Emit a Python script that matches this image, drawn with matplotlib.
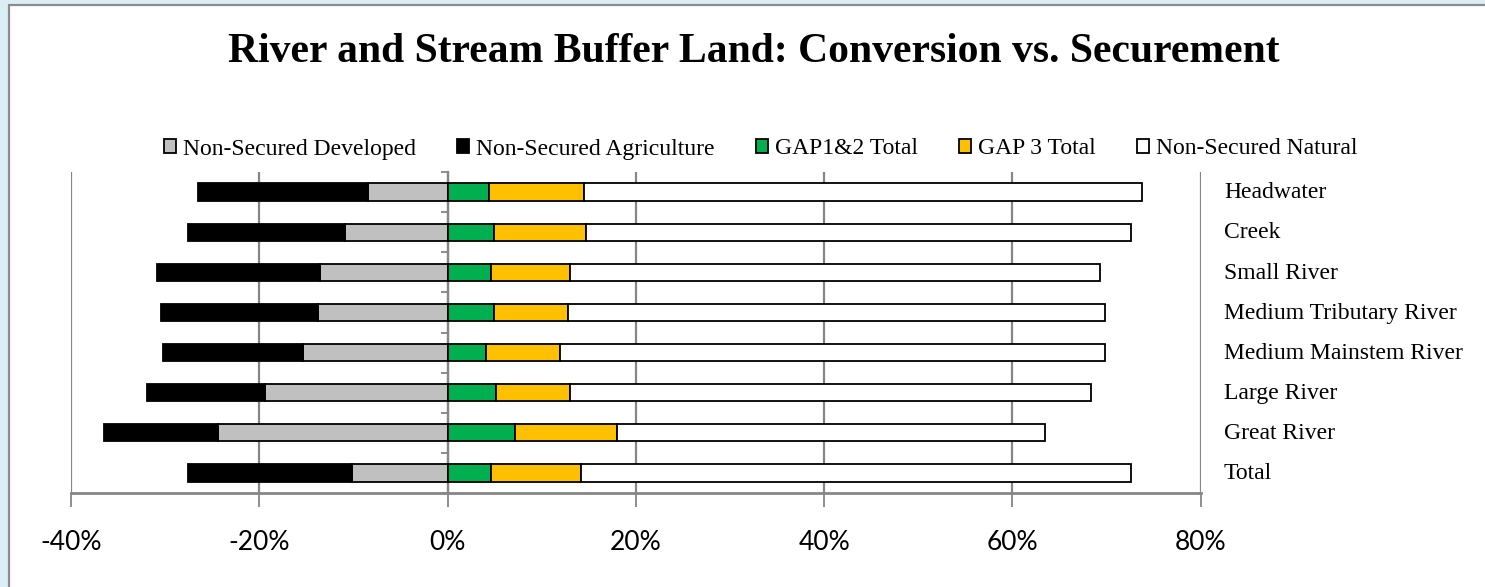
# River and stream buffer land: conversion (left of 0) vs securement (right of 0)
import matplotlib
matplotlib.use("Agg")
import matplotlib.pyplot as plt
from matplotlib.patches import Rectangle
from matplotlib.ticker import FuncFormatter

categories = ["Headwater", "Creek", "Small River", "Medium Tributary River",
              "Medium Mainstem River", "Large River", "Great River", "Total"]

# percent of buffer land per size class
developed = [8.4, 10.9, 13.6, 13.8, 15.4, 19.4, 24.4, 10.2]
agriculture = [18.1, 16.7, 17.3, 16.6, 14.8, 12.5, 12.1, 17.4]
gap12 = [4.4, 4.9, 4.6, 4.9, 4.1, 5.1, 7.2, 4.6]
gap3 = [10.1, 9.8, 8.4, 7.9, 7.8, 7.9, 10.8, 9.6]
natural = [59.3, 57.9, 56.3, 57.0, 57.9, 55.4, 45.5, 58.4]

series_names = ["Non-Secured Developed", "Non-Secured Agriculture",
                "GAP1&2 Total", "GAP 3 Total", "Non-Secured Natural"]
x_ticks = [-40, -20, 0, 20, 40, 60, 80]

C_DEV, C_AGR, C_G12, C_G3, C_NAT = "#c0c0c0", "#000000", "#00b050", "#ffc000", "#ffffff"
C_GRID = "#868686"
SERIF = ["Liberation Serif", "DejaVu Serif"]

W, H = 1485, 587
fig = plt.figure(figsize=(W / 100, H / 100), dpi=100)
fig.patch.set_facecolor("#dceef5")
fig.patches.append(Rectangle((9 / W, -0.01), 1.0, 1 - 5 / H + 0.01,
                             transform=fig.transFigure, facecolor="white",
                             edgecolor="#8c8c8c", lw=1.6, zorder=-10))

ax = fig.add_axes([71 / W, 1 - 493 / H, (1200.7 - 71) / W, (493 - 172) / H])
ax.set_facecolor("none")

y = list(range(len(categories)))
kw = dict(height=0.43, edgecolor="black", linewidth=1.3, zorder=3)
neg_dev = [-v for v in developed]
neg_agr = [-v for v in agriculture]
ax.barh(y, neg_dev, color=C_DEV, label=series_names[0], **kw)
ax.barh(y, neg_agr, left=neg_dev, color=C_AGR, label=series_names[1], **kw)
ax.barh(y, gap12, color=C_G12, label=series_names[2], **kw)
ax.barh(y, gap3, left=gap12, color=C_G3, label=series_names[3], **kw)
left_nat = [a + b for a, b in zip(gap12, gap3)]
ax.barh(y, natural, left=left_nat, color=C_NAT, label=series_names[4], **kw)

ax.set_xlim(-40, 80)
ax.set_ylim(len(categories) - 0.5, -0.5)
ax.set_xticks(x_ticks)
ax.xaxis.set_major_formatter(FuncFormatter(lambda v, _: f"{v:.0f}%"))
ax.grid(axis="x", color=C_GRID, lw=1.6, zorder=1)
ax.tick_params(axis="x", direction="out", length=10, width=1.3, color=C_GRID,
               pad=17, labelsize=19)
for lab in ax.get_xticklabels():
    lab.set_family(["Lato", "DejaVu Sans"])

# category axis sits on the 0 line, ticks between categories
for s in ["top", "right"]:
    ax.spines[s].set_visible(False)
ax.spines["left"].set_position(("data", 0))
ax.spines["left"].set_color(C_GRID)
ax.spines["left"].set_linewidth(1.6)
ax.spines["bottom"].set_color(C_GRID)
ax.spines["bottom"].set_linewidth(2)
ax.set_yticks([i - 0.5 for i in range(len(categories) + 1)])
ax.set_yticklabels([])
ax.tick_params(axis="y", direction="out", length=5, width=1.3, color=C_GRID)

for i, name in enumerate(categories):
    ax.text(1.0206, i + 0.02, name, transform=ax.get_yaxis_transform(), ha="left",
            va="center", fontsize=17, family=SERIF, clip_on=False)

fig.text(754 / W, 1 - 52 / H, "River and Stream Buffer Land: Conversion vs. Securement",
         ha="center", va="center", fontsize=30, fontweight="bold", family=SERIF)

fig.legend(loc="center", bbox_to_anchor=(761 / W, 1 - 149 / H), ncol=5,
           frameon=False, prop={"family": SERIF, "size": 17},
           handlelength=0.5, handleheight=0.5, handletextpad=0.3,
           columnspacing=1.75)

fig.savefig("out.png", dpi=100, facecolor=fig.get_facecolor())
